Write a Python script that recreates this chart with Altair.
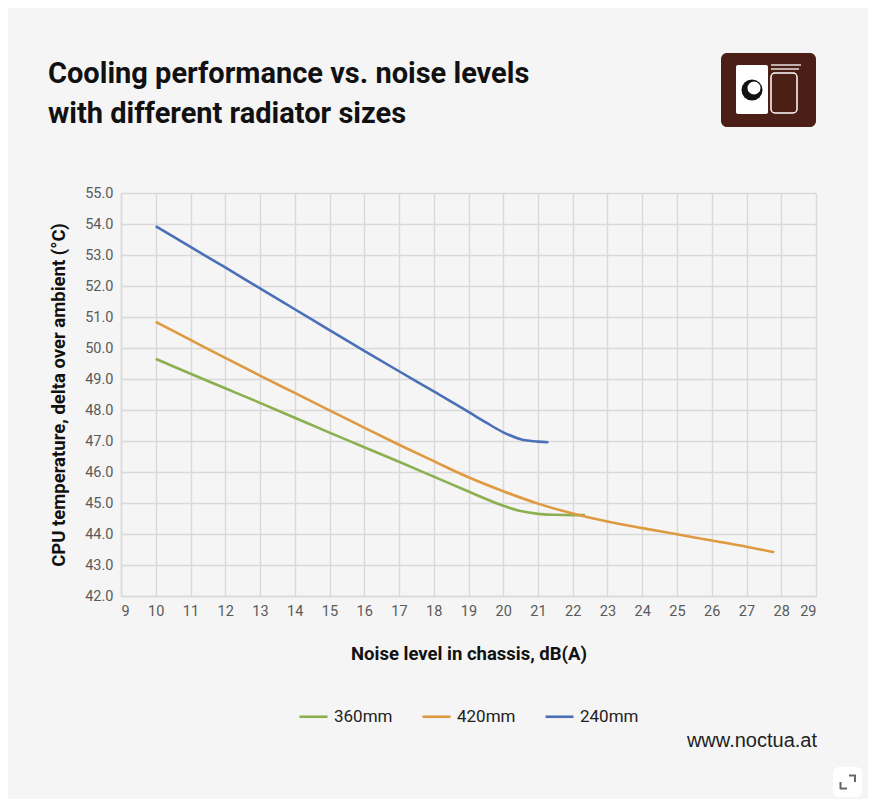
import altair as alt
import pandas as pd

# ---- data ----
series_names = ["360mm", "420mm", "240mm"]
series_colors = ["#8BB04F", "#DF9A41", "#4A70B7"]

x_360 = [10, 11, 12, 13, 14, 15, 16, 17, 18, 19, 20, 20.5, 21, 21.5, 22, 22.35]
y_360 = [49.65, 49.17, 48.70, 48.23, 47.75, 47.27, 46.80, 46.33, 45.85, 45.37, 44.91, 44.74, 44.65, 44.62, 44.61, 44.61]

x_420 = [10, 11, 12, 13, 14, 15, 16, 17, 18, 19, 20, 21, 22, 23, 24, 25, 26, 27, 27.8]
y_420 = [50.84, 50.26, 49.68, 49.11, 48.55, 47.99, 47.43, 46.88, 46.35, 45.83, 45.38, 44.98, 44.66, 44.40, 44.19, 43.99, 43.79, 43.59, 43.41]

x_240 = [10, 11, 12, 13, 14, 15, 16, 17, 18, 19, 19.5, 20, 20.5, 21, 21.3]
y_240 = [53.93, 53.26, 52.60, 51.92, 51.25, 50.58, 49.91, 49.25, 48.60, 47.94, 47.60, 47.28, 47.06, 46.98, 46.96]

x_ticks = list(range(9, 30))
y_ticks = list(range(42, 56))

title_lines = ["Cooling performance vs. noise levels", "with different radiator sizes"]
x_title = "Noise level in chassis, dB(A)"
y_title = "CPU temperature, delta over ambient (°C)"
footer = "www.noctua.at"

rows = []
for name, xs, ys in [("360mm", x_360, y_360), ("420mm", x_420, y_420), ("240mm", x_240, y_240)]:
    for i, (xv, yv) in enumerate(zip(xs, ys)):
        rows.append({"noise": xv, "temp": yv, "series": name, "idx": i})
df = pd.DataFrame(rows)

FONT = "Roboto, Liberation Sans, sans-serif"
one = pd.DataFrame({"k": [0]})

lines = alt.Chart(df).mark_line(interpolate="monotone", strokeWidth=2.6).encode(
    x=alt.X("noise:Q",
            scale=alt.Scale(domain=[9, 29], nice=False, zero=False),
            axis=alt.Axis(values=x_ticks, title=x_title, titlePadding=27, format="d")),
    y=alt.Y("temp:Q",
            scale=alt.Scale(domain=[42, 55], nice=False, zero=False),
            axis=alt.Axis(values=y_ticks, title=y_title, format=".1f", titlePadding=16)),
    color=alt.Color("series:N",
                    scale=alt.Scale(domain=series_names, range=series_colors),
                    legend=alt.Legend(title=None, orient="none", legendX=177, legendY=508,
                                      direction="horizontal", symbolType="stroke",
                                      symbolSize=784, symbolStrokeWidth=2.6,
                                      labelFont=FONT, labelFontSize=17, labelColor="#222222",
                                      labelOffset=5, columnPadding=24, padding=0)),
    order="idx:Q",
)

title1 = alt.Chart(one).mark_text(text=title_lines[0], align="left", baseline="alphabetic",
                                  font=FONT, fontSize=29, fontWeight="bold",
                                  color="#111111").encode(x=alt.value(-73), y=alt.value(-110))
title2 = alt.Chart(one).mark_text(text=title_lines[1], align="left", baseline="alphabetic",
                                  font=FONT, fontSize=29, fontWeight="bold",
                                  color="#111111").encode(x=alt.value(-73), y=alt.value(-70))
foot = alt.Chart(one).mark_text(text=footer, align="right", baseline="alphabetic",
                                font="Liberation Sans", fontSize=20,
                                color="#222222").encode(x=alt.value(696), y=alt.value(554))

# logo (decoration)
logo_bg = alt.Chart(one).mark_rect(color="#4B1E16", cornerRadius=6).encode(
    x=alt.value(600), x2=alt.value(695), y=alt.value(-140), y2=alt.value(-66))
owl = alt.Chart(one).mark_rect(color="#FFFFFF", cornerRadius=2).encode(
    x=alt.value(615), x2=alt.value(647), y=alt.value(-128), y2=alt.value(-79))
eye = alt.Chart(one).mark_point(filled=True, shape="circle", size=440, color="#111111", opacity=1).encode(
    x=alt.value(631), y=alt.value(-103))
eye_in = alt.Chart(one).mark_point(filled=True, shape="circle", size=170, color="#FFFFFF", opacity=1).encode(
    x=alt.value(633), y=alt.value(-105))
door = alt.Chart(one).mark_rect(fill="#4B1E16", stroke="#FFFFFF", strokeWidth=1.5, cornerRadius=4).encode(
    x=alt.value(650), x2=alt.value(676), y=alt.value(-120), y2=alt.value(-80))
r1 = alt.Chart(one).mark_rule(color="#FFFFFF", strokeWidth=1.3).encode(
    x=alt.value(650), x2=alt.value(680), y=alt.value(-128))
r2 = alt.Chart(one).mark_rule(color="#FFFFFF", strokeWidth=1.3).encode(
    x=alt.value(650), x2=alt.value(678), y=alt.value(-124))

# expand icon (decoration)
icon = alt.Chart(one).mark_rect(color="#FFFFFF", cornerRadius=6).encode(
    x=alt.value(712), x2=alt.value(741), y=alt.value(574), y2=alt.value(604))
ic1 = alt.Chart(one).mark_rule(color="#666666", strokeWidth=2).encode(
    x=alt.value(728), x2=alt.value(735), y=alt.value(582.5))
ic2 = alt.Chart(one).mark_rule(color="#666666", strokeWidth=2).encode(
    x=alt.value(734), y=alt.value(582), y2=alt.value(589))
ic3 = alt.Chart(one).mark_rule(color="#666666", strokeWidth=2).encode(
    x=alt.value(719.5), y=alt.value(589), y2=alt.value(596))
ic4 = alt.Chart(one).mark_rule(color="#666666", strokeWidth=2).encode(
    x=alt.value(719), x2=alt.value(726), y=alt.value(595.5))

chart = alt.layer(
    lines, title1, title2, foot, logo_bg, owl, eye, eye_in, door, r1, r2,
    icon, ic1, ic2, ic3, ic4
).properties(
    width=695, height=403,
    autosize=alt.AutoSizeParams(type="none"),
    padding={"left": 113, "top": 185, "right": 52, "bottom": 203},
    background="#F5F5F5",
).configure_view(
    stroke=None,
).configure_axis(
    grid=True, gridColor="#D9D9D9", gridWidth=1.4,
    domain=True, domainColor="#D9D9D9", domainWidth=1.4,
    ticks=False,
    labelFont=FONT, labelFontSize=14.5, labelColor="#5A5A5A", labelPadding=8,
    titleFont=FONT, titleFontSize=18.5, titleFontWeight="bold", titleColor="#111111",
)

chart.save("out.html", embed_options={"renderer": "svg", "actions": False})
